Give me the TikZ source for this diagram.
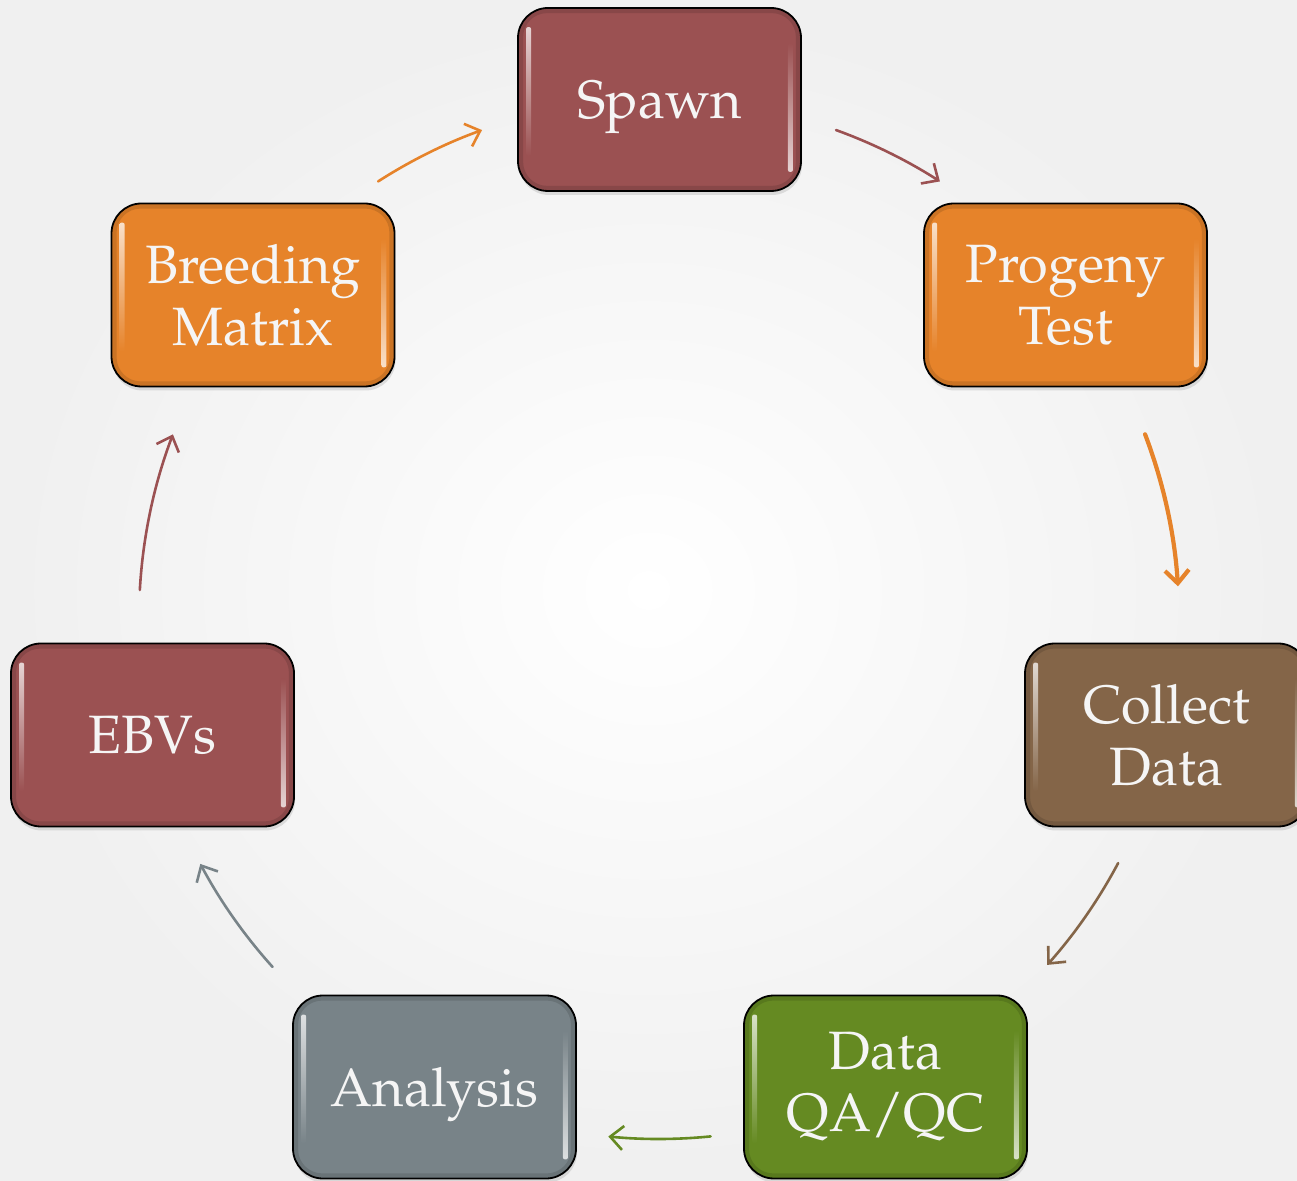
\documentclass[tikz,border=0pt]{standalone}
\usepackage[T1]{fontenc}
\usepackage{mathpazo}
\usetikzlibrary{arrows.meta,shadows,calc}
\definecolor{cmaroon}{HTML}{9B5152}
\definecolor{corange}{HTML}{E6832A}
\definecolor{cbrown}{HTML}{846548}
\definecolor{cgreen}{HTML}{658A22}
\definecolor{cgray}{HTML}{788388}
\begin{document}
\begin{tikzpicture}[x=1pt,y=1pt,
  stepbox/.style={draw=black, line width=1.8pt, rounded corners=30pt,
    minimum width=283pt, minimum height=183pt, text=white!96!black,
    align=center, font=\fontsize{54}{62}\selectfont, inner sep=0pt,
    drop shadow={opacity=0.22, shadow xshift=1pt, shadow yshift=-4pt}},
  flow/.style={line width=2.6pt, line cap=round,
    -{Straight Barb[length=13pt,width=24pt]}},
  flowthick/.style={flow, line width=4.2pt},
]
\useasboundingbox (0,0) rectangle (1297,1180);
\shade[inner color=white, outer color=black!6] (0,0) rectangle (1297,1180);

\node[stepbox, fill=cmaroon, text depth=0pt] (spawn) at (659.5,1080.5) {Spawn};
\node[stepbox, fill=corange] (breed) at (253,885) {Breeding\\Matrix};
\node[stepbox, fill=corange] (prog) at (1065.5,885) {Progeny\\Test};
\node[stepbox, fill=cmaroon] (ebv) at (152.5,445) {EBVs};
\node[stepbox, fill=cbrown] (coll) at (1166.5,445) {Collect\\Data};
\node[stepbox, fill=cgray, text depth=0pt] (anal) at (434.5,93) {Analysis};
\node[stepbox, fill=cgreen] (qa) at (885.5,93) {Data\\QA/QC};

\foreach \n/\c in {spawn/cmaroon, breed/corange, prog/corange, ebv/cmaroon, coll/cbrown, anal/cgray, qa/cgreen}{
  \shade[top color=\c!25!white, bottom color=\c, rounded corners=2pt]
    ([xshift=9pt,yshift=-20pt]\n.north west) rectangle ([xshift=14pt,yshift=36pt]\n.south west);
  \shade[top color=\c, bottom color=\c!25!white, rounded corners=2pt]
    ([xshift=-14pt,yshift=-36pt]\n.north east) rectangle ([xshift=-9pt,yshift=20pt]\n.south east);
  \draw[black, opacity=0.12, line width=4pt, rounded corners=26pt]
    ([shift={(4pt,-4pt)}]\n.north west) rectangle ([shift={(-4pt,4pt)}]\n.south east);
}

\coordinate (ctr) at (659,561);
\coordinate (a1) at ($(ctr)+(122.7:520)$);
\coordinate (a2) at ($(ctr)+(70.1:520)$);
\coordinate (a3) at ($(ctr)+(20.8:520)$);
\coordinate (a4) at ($(ctr)+(-28.0:520)$);
\coordinate (a5) at ($(ctr)+(-84.3:520)$);
\coordinate (a6) at ($(ctr)+(-138.0:520)$);
\coordinate (a7) at ($(ctr)+(176.8:520)$);

\draw[flow, corange] (a1) arc[start angle=122.7, end angle=109.9, radius=520];
\draw[flow, cmaroon] (a2) arc[start angle=70.1, end angle=57.3, radius=520];
\draw[flowthick, corange] (a3) arc[start angle=20.8, end angle=3.6, radius=520];
\draw[flow, cbrown] (a4) arc[start angle=-28.0, end angle=-41.7, radius=520];
\draw[flow, cgreen] (a5) arc[start angle=-84.3, end angle=-95.6, radius=520];
\draw[flow, cgray] (a6) arc[start angle=-138.0, end angle=-151.9, radius=520];
\draw[flow, cmaroon] (a7) arc[start angle=176.8, end angle=159.2, radius=520];
\end{tikzpicture}
\end{document}
